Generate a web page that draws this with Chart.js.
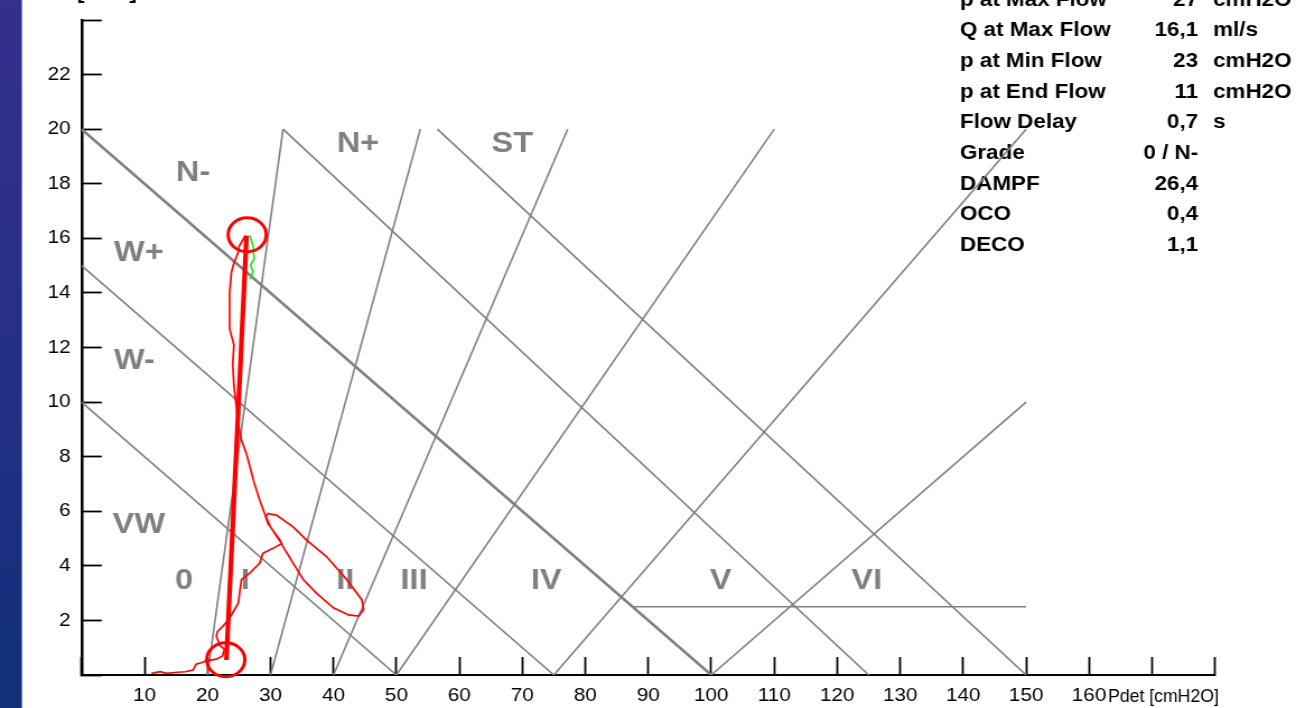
<!DOCTYPE html>
<html lang="de">
<head>
<meta charset="UTF-8">
<title>Druck-Fluss-Nomogramm</title>
<script src="https://cdn.jsdelivr.net/npm/chart.js"></script>
<style>
    html, body { margin: 0; padding: 0; background: #fff; overflow: hidden; }
    /* the original picture is stretched a bit in width, so the canvas is too */
    #nomo { display: block; width: 1296px !important; height: 708px !important; }
</style>
</head>
<body>
<canvas id="nomo" width="1157" height="708"></canvas>
<script>
// axes
const xTicks = [0, 10, 20, 30, 40, 50, 60, 70, 80, 90, 100, 110, 120, 130, 140, 150, 160, 170, 180];
const xTickLabels = [10, 20, 30, 40, 50, 60, 70, 80, 90, 100, 110, 120, 130, 140, 150, 160];
const yTicks = [0, 2, 4, 6, 8, 10, 12, 14, 16, 18, 20, 22, 24];
const yTickLabels = [2, 4, 6, 8, 10, 12, 14, 16, 18, 20, 22];

// nomogram lines: [p1, q1, p2, q2]  (pdet cmH2O, flow ml/s)
const nomoLines = [
    [0, 20, 100, 0],
    [0, 15, 75, 0],
    [0, 10, 50, 0],
    [32, 20, 125, 0],
    [56.5, 20, 150, 0],
    [20, 0, 32, 20],
    [30, 0, 53.8, 20],
    [40, 0, 77.2, 20],
    [50, 0, 110, 20],
    [75, 0, 150, 20],
    [100, 0, 150, 10],
    [87.5, 2.5, 150, 2.5]
];

// region names
const regionNames = ['N-', 'N+', 'ST', 'W+', 'W-', 'VW', '0', 'I', 'II', 'III', 'IV', 'V', 'VI'];
const regionP = [17.7, 43.9, 68.4, 9.1, 8.4, 9.1, 16.3, 26.0, 41.9, 52.8, 73.8, 101.5, 124.7];
const regionQ = [18.4, 19.45, 19.45, 15.45, 11.5, 5.5, 3.45, 3.45, 3.45, 3.45, 3.45, 3.45, 3.45];

// measured pressure / flow trace
const traceP = [11.1, 12.5, 13.5, 15.3, 16.5, 17.7, 18.2, 19.0, 19.8, 21.4, 22.4, 22.7, 22.0, 21.4, 21.6,
    22.5, 23.2, 23.8, 24.9, 25.1, 25.4, 26.7, 28.3, 28.8, 30.4, 31.8, 31.0, 30.0, 29.3, 29.6,
    31.0, 33.6, 35.7, 38.9, 42.1, 44.5, 44.8, 44.0, 42.4, 40.0, 37.3, 35.2, 33.6, 32.0, 31.5,
    30.4, 29.6, 29.1, 28.3, 27.8, 27.3, 26.2, 25.4, 24.9, 24.5, 24.2, 24.0, 24.2, 23.5, 23.5,
    23.8, 24.2, 24.9, 25.0, 26.0];
const traceQ = [0.06, 0.12, 0.06, 0.1, 0.12, 0.18, 0.4, 0.45, 0.52, 0.58, 0.7, 0.95, 1.07, 1.43, 1.6,
    1.8, 2.0, 2.2, 2.64, 3.0, 3.5, 3.73, 4.1, 4.46, 4.64, 4.82, 5.07, 5.43, 5.8, 5.92,
    5.85, 5.43, 4.95, 4.34, 3.5, 2.76, 2.4, 2.16, 2.2, 2.46, 3.0, 3.5, 4.1, 4.7, 4.95,
    5.3, 5.55, 5.9, 6.4, 6.76, 7.13, 8.1, 8.6, 9.2, 10.0, 10.6, 11.4, 12.1, 12.7, 14.0,
    14.76, 15.1, 15.5, 15.7, 16.1];
const greenP = [26.7, 27.25, 27.4, 26.8, 27.25, 26.8];
const greenQ = [16.1, 15.73, 15.25, 15.0, 14.8, 14.5];

// min flow -> max flow line and markers
const purrP = [23.0, 26.2];
const purrQ = [0.55, 16.1];
const markP = [22.9, 26.3];
const markQ = [0.56, 16.13];

// result table
const tableLabels = ['p at Max Flow', 'Q at Max Flow', 'p at Min Flow', 'p at End Flow', 'Flow Delay', 'Grade', 'DAMPF', 'OCO', 'DECO'];
const tableValues = ['27', '16,1', '23', '11', '0,7', '0 / N-', '26,4', '0,4', '1,1'];
const tableUnits = ['cmH2O', 'ml/s', 'cmH2O', 'cmH2O', 's', '', '', '', ''];

const gray = '#808080';
const fontFamily = '"Liberation Sans", Arial, sans-serif';

function points(ps, qs) {
    return ps.map((p, i) => ({ x: p, y: qs[i] }));
}

const datasets = [];
datasets.push({
    label: 'Marker', data: points(markP, markQ), showLine: false,
    pointRadius: 17, pointHoverRadius: 17, pointBorderWidth: 3,
    pointBorderColor: '#ff0000', pointBackgroundColor: 'rgba(0,0,0,0)',
    clip: false, order: 0
});
datasets.push({
    label: 'PURR', data: points(purrP, purrQ), showLine: true,
    borderColor: '#ff0000', borderWidth: 4.2, pointRadius: 0, order: 1
});
datasets.push({
    label: 'Anstieg', data: points(greenP, greenQ), showLine: true,
    borderColor: '#1ee61e', borderWidth: 1.7, pointRadius: 0, order: 2
});
datasets.push({
    label: 'Messung', data: points(traceP, traceQ), showLine: true,
    borderColor: '#ff0000', borderWidth: 1.7, pointRadius: 0, order: 3
});
nomoLines.forEach((l, i) => {
    datasets.push({
        label: 'Linie ' + i, data: [{ x: l[0], y: l[1] }, { x: l[2], y: l[3] }], showLine: true,
        borderColor: gray, borderWidth: i === 0 ? 2.6 : 1.6, pointRadius: 0, order: 5
    });
});

// text drawn on the canvas: regions, table, blue strip, axis captions
const nomoText = {
    id: 'nomoText',
    beforeDraw(chart) {
        const ctx = chart.ctx;
        const g = ctx.createLinearGradient(0, 0, 0, chart.height);
        g.addColorStop(0, '#34308c');
        g.addColorStop(0.5, '#262f86');
        g.addColorStop(1, '#10307a');
        ctx.save();
        ctx.fillStyle = g;
        ctx.fillRect(0, 0, 19.6, chart.height);
        ctx.restore();
    },
    beforeDatasetsDraw(chart) {
        const ctx = chart.ctx;
        const xs = chart.scales.x, ys = chart.scales.y;
        ctx.save();
        ctx.fillStyle = gray;
        ctx.font = 'bold 29px ' + fontFamily;
        ctx.textAlign = 'center';
        ctx.textBaseline = 'middle';
        regionNames.forEach((t, i) => {
            ctx.fillText(t, xs.getPixelForValue(regionP[i]), ys.getPixelForValue(regionQ[i]));
        });

        ctx.fillStyle = '#000';
        ctx.font = 'bold 20px ' + fontFamily;
        ctx.textBaseline = 'alphabetic';
        tableLabels.forEach((t, i) => {
            const y = 5.5 + i * 30.7;
            ctx.textAlign = 'left';
            ctx.fillText(t, 857, y);
            ctx.textAlign = 'right';
            ctx.fillText(tableValues[i], 1069.6, y);
            ctx.textAlign = 'left';
            ctx.fillText(tableUnits[i], 1083, y);
        });

        // y caption, cut at the top edge like in the original
        ctx.fillText('[ml/s]', 68.7, -1);

        // x caption on the tick label row
        ctx.font = '18.5px ' + fontFamily;
        ctx.textAlign = 'left';
        ctx.textBaseline = 'middle';
        ctx.fillText('Pdet [cmH2O]', xs.getPixelForValue(163.0), chart.chartArea.bottom + 21.5, 99);
        ctx.restore();
    }
};

new Chart(document.getElementById('nomo'), {
    type: 'scatter',
    data: { datasets: datasets },
    options: {
        responsive: false,
        devicePixelRatio: 1,
        animation: false,
        events: [],
        layout: { padding: { left: 0, top: 15.5, right: 72.3, bottom: 0 } },
        elements: { line: { tension: 0 } },
        plugins: { legend: { display: false }, tooltip: { enabled: false } },
        scales: {
            x: {
                type: 'linear', min: 0, max: 180,
                afterBuildTicks: s => { s.ticks = xTicks.map(v => ({ value: v })); },
                afterFit: s => { s.height = 33; s.paddingLeft = 0; s.paddingRight = 0; },
                grid: { display: true, drawOnChartArea: false, drawTicks: true, tickLength: -18, tickWidth: 1.8, tickColor: '#000' },
                border: { display: true, color: '#000', width: 2 },
                ticks: {
                    padding: 28, autoSkip: false, maxRotation: 0, minRotation: 0, color: '#000',
                    font: { family: fontFamily, size: 18.5 },
                    callback: v => xTickLabels.includes(v) ? String(v) : ''
                }
            },
            y: {
                type: 'linear', min: 0, max: 24,
                afterBuildTicks: s => { s.ticks = yTicks.map(v => ({ value: v })); },
                afterFit: s => { s.width = 72.8; s.paddingTop = 0; s.paddingBottom = 0; },
                grid: { display: true, drawOnChartArea: false, drawTicks: true, tickLength: -18, tickWidth: 1.8, tickColor: '#000' },
                border: { display: true, color: '#000', width: 2.5 },
                ticks: {
                    padding: 27.7, autoSkip: false, color: '#000',
                    font: { family: fontFamily, size: 18.5 },
                    callback: v => yTickLabels.includes(v) ? String(v) : ''
                }
            }
        }
    },
    plugins: [nomoText]
});
</script>
</body>
</html>
